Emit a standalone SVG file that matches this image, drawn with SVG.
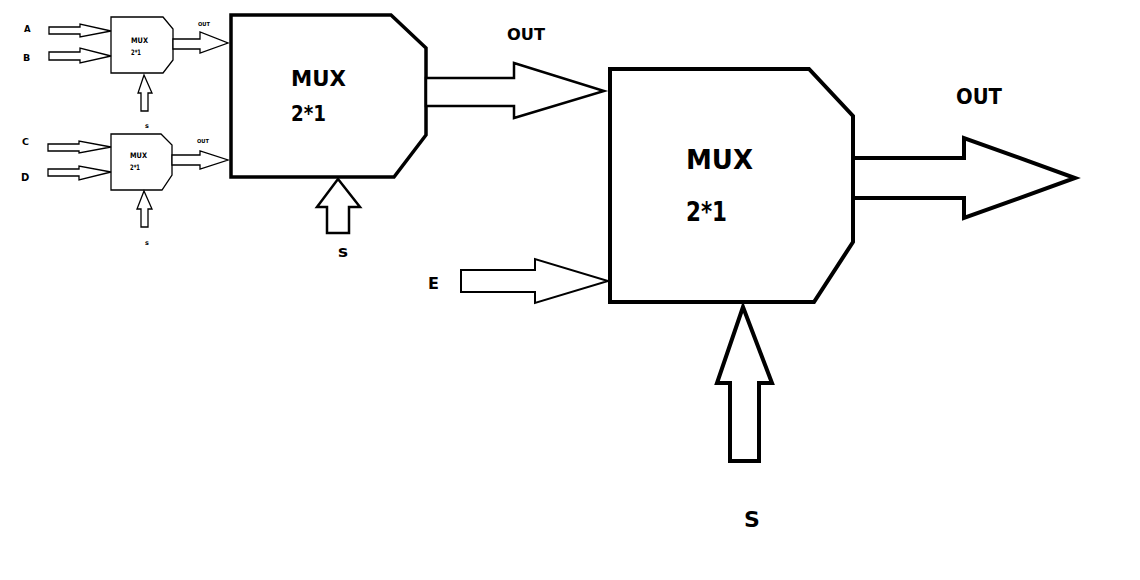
<svg xmlns="http://www.w3.org/2000/svg" width="1140" height="580" viewBox="0 0 1140 580">
<style>
  .blk{fill:#fff;stroke:#000;stroke-linejoin:miter}
  .arr{fill:#fff;stroke:#000;stroke-linejoin:miter}
  text{font-family:"DejaVu Sans","Liberation Sans",Arial,sans-serif;font-weight:bold;fill:#000}
</style>
<rect width="1140" height="580" fill="#fff"/>
<g id="mux1">
  <polygon class="blk" stroke-width="1.3" points="111,17 163,17 173,29 173,60 163,73 111,73"/>
  <text x="131" y="43" font-size="7.5" textLength="17" lengthAdjust="spacingAndGlyphs">MUX</text>
  <text x="131" y="55" font-size="7.5" textLength="10" lengthAdjust="spacingAndGlyphs">2*1</text>
</g>
<g id="mux2">
  <polygon class="blk" stroke-width="1.3" points="111,134 161,134 172,145 172,175 162,190 111,190"/>
  <text x="130" y="158" font-size="7.5" textLength="17" lengthAdjust="spacingAndGlyphs">MUX</text>
  <text x="130" y="170" font-size="7.5" textLength="10" lengthAdjust="spacingAndGlyphs">2*1</text>
</g>
<g id="mux3">
  <polygon class="blk" stroke-width="3.5" points="231,15 391,15 426,48 426,135 394,177 231,177"/>
  <text x="291" y="86" font-size="21" textLength="55" lengthAdjust="spacingAndGlyphs">MUX</text>
  <text x="291" y="121" font-size="21" textLength="35" lengthAdjust="spacingAndGlyphs">2*1</text>
</g>
<g id="mux4">
  <polygon class="blk" stroke-width="4" points="610,69 809,69 853,116 853,242 814,302 610,302"/>
  <text x="686" y="169" font-size="27" textLength="67" lengthAdjust="spacingAndGlyphs">MUX</text>
  <text x="686" y="221" font-size="27" textLength="41" lengthAdjust="spacingAndGlyphs">2*1</text>
</g>
<g id="labels">
  <text x="24" y="32" font-size="8.5">A</text>
  <text x="23" y="61" font-size="9.5">B</text>
  <text x="22" y="145" font-size="9.5">C</text>
  <text x="21" y="181" font-size="10">D</text>
  <text x="198" y="26" font-size="5.5" textLength="12" lengthAdjust="spacingAndGlyphs">OUT</text>
  <text x="197" y="143" font-size="5.5" textLength="12" lengthAdjust="spacingAndGlyphs">OUT</text>
  <text x="145" y="128" font-size="6.5">s</text>
  <text x="145" y="245" font-size="6.5">s</text>
  <text x="507" y="40" font-size="15" textLength="38" lengthAdjust="spacingAndGlyphs">OUT</text>
  <text x="338" y="257" font-size="15" textLength="10" lengthAdjust="spacingAndGlyphs">s</text>
  <text x="956" y="104" font-size="21" textLength="46" lengthAdjust="spacingAndGlyphs">OUT</text>
  <text x="428" y="289" font-size="16">E</text>
  <text x="744" y="527" font-size="22">S</text>
</g>
<g id="connectors">
  <polygon class="arr" stroke-width="1.3" points="49,27 80,27 80,24 111,31 80,37 80,34 49,34"/>
  <polygon class="arr" stroke-width="1.3" points="49,52 80,52 80,48 111,56 80,63 80,60 49,60"/>
  <polygon class="arr" stroke-width="1.3" points="48,144 79,144 79,141 111,147 79,153 79,151 48,151"/>
  <polygon class="arr" stroke-width="1.3" points="48,169 79,169 79,166 111,172 79,180 79,176 48,176"/>
  <polygon class="arr" stroke-width="1.3" points="173,39 200,39 200,32 228,43 200,53 200,49 173,49"/>
  <polygon class="arr" stroke-width="1.3" points="172,155 200,155 200,151 228,160 200,169 200,165 172,165"/>
  <polygon class="arr" stroke-width="1.3" points="144,75 152,93 148,93 148,111 141,111 141,93 138,93"/>
  <polygon class="arr" stroke-width="1.3" points="144,191 152,209 148,209 148,227 141,227 141,209 137,209"/>
  <polygon class="arr" stroke-width="2.5" points="426,78 514,78 514,63 604,91 514,118 514,106 426,106"/>
  <polygon class="arr" stroke-width="2.5" points="338,179 360,207 349,207 349,233 327,233 327,207 317,207"/>
  <polygon class="arr" stroke-width="2" points="461,270 535,270 535,259 608,281 535,303 535,292 461,292"/>
  <polygon class="arr" stroke-width="4" points="853,158 964,158 964,138 1075,178 964,218 964,198 853,198"/>
  <polygon class="arr" stroke-width="4" points="743,307 772,383 759,383 759,461 730,461 730,383 717,383"/>
</g>
</svg>
